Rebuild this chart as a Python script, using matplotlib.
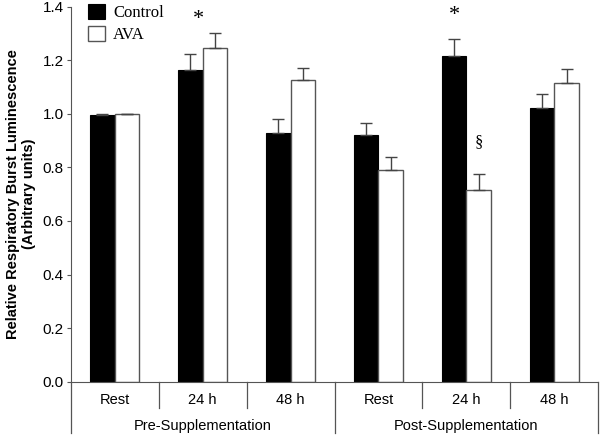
import matplotlib.pyplot as plt
import numpy as np

times = ['Rest', '24 h', '48 h', 'Rest', '24 h', '48 h']
phases = ['Pre-Supplementation', 'Post-Supplementation']
control = [0.997, 1.162, 0.930, 0.920, 1.215, 1.020]
control_err = [0.003, 0.060, 0.049, 0.046, 0.064, 0.052]
ava = [1.000, 1.244, 1.126, 0.790, 0.716, 1.116]
ava_err = [0.0, 0.058, 0.046, 0.048, 0.060, 0.052]
yticks = [0.0, 0.2, 0.4, 0.6, 0.8, 1.0, 1.2, 1.4]

plt.rcParams['font.family'] = ['Liberation Sans', 'DejaVu Sans']

fig = plt.figure(figsize=(6, 4.37), dpi=100)
ax = fig.add_axes([0.118, 0.1265, 0.879, 0.8585])

x = np.arange(len(times))
w = 0.28
ax.bar(x - w / 2, control, w, color='black', edgecolor='black', linewidth=0.8, label='Control', zorder=2)
ax.bar(x + w / 2, ava, w, color='white', edgecolor='#555555', linewidth=1.0, label='AVA', zorder=2)
ax.errorbar(x - w / 2, control, yerr=[np.zeros(6), control_err], fmt='none',
            ecolor='#444444', elinewidth=1, capsize=4, capthick=1, zorder=3)
ax.errorbar(x + w / 2, ava, yerr=[np.zeros(6), ava_err], fmt='none',
            ecolor='#444444', elinewidth=1, capsize=4, capthick=1, zorder=3)

ax.set_xlim(-0.5, len(times) - 0.5)
ax.set_ylim(0, 1.4)
ax.set_yticks(yticks)
ax.set_yticklabels([f'{v:.1f}' for v in yticks], fontsize=11)
ax.tick_params(axis='y', direction='out', length=3, width=0.8, color='#555555', pad=2)
ax.set_xticks([])
for s in ['top', 'right']:
    ax.spines[s].set_visible(False)
ax.spines['left'].set_color('#555555')
ax.spines['bottom'].set_color('#555555')

ax.set_ylabel('Relative Respiratory Burst Luminescence\n(Arbitrary units)',
              fontsize=10.5, fontweight='bold', labelpad=5)

# category axis below
tr = ax.get_xaxis_transform()
for i in range(len(times) + 1):
    xb = i - 0.5
    low = -0.137 if i % 3 == 0 else -0.070
    ax.plot([xb, xb], [0, low], color='#555555', lw=0.9, transform=tr, clip_on=False)
for i, t in enumerate(times):
    ax.text(i, -0.048, t, transform=tr, ha='center', va='center', fontsize=10.5)
for j, p in enumerate(phases):
    ax.text(3 * j + 1, -0.117, p, transform=tr, ha='center', va='center', fontsize=10.5)

# annotations
serif = ['Liberation Serif', 'DejaVu Serif']
ax.text(0.95, 1.35, '*', ha='center', va='center', fontsize=16, family=serif)
ax.text(4 - w / 2, 1.368, '*', ha='center', va='center', fontsize=16, family=serif)
ax.text(4 + w / 2, 0.895, '§', ha='center', va='center', fontsize=12, family=serif)

leg = ax.legend(loc='upper left', bbox_to_anchor=(0.02, 1.025), frameon=False,
                prop={'family': serif, 'size': 12}, handlelength=1.0, handleheight=1.0,
                handletextpad=0.5, labelspacing=0.3, borderaxespad=0)

fig.savefig('out.png', dpi=100)
